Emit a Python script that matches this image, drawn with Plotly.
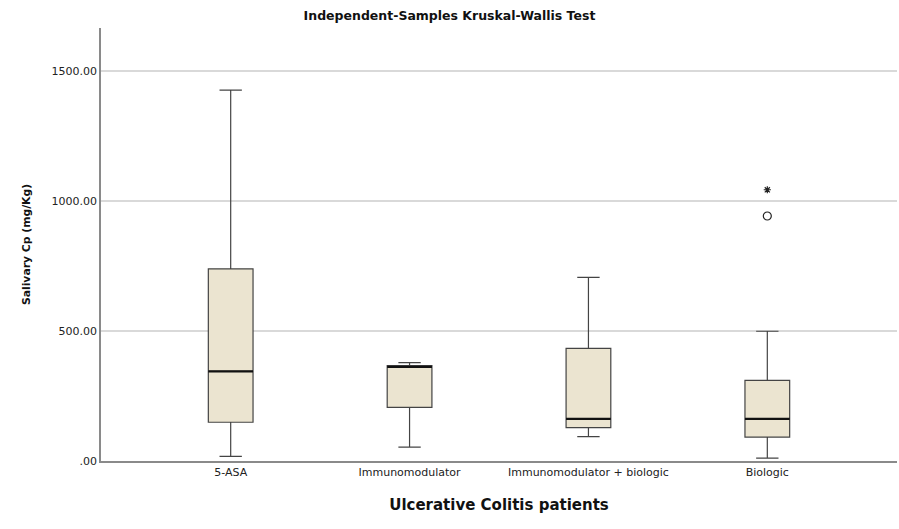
import plotly.graph_objects as go

categories = ["5-ASA", "Immunomodulator", "Immunomodulator + biologic", "Biologic"]
lower_whisker = [18, 53, 94, 11]
q1_vals = [149, 206, 128, 92]
median_vals = [345, 362, 162, 162]
q3_vals = [739, 367, 433, 310]
upper_whisker = [1426, 378, 706, 499]
outlier_cat = ["Biologic"]
outlier_vals = [942]
extreme_cat = ["Biologic"]
extreme_vals = [1043]
y_ticks = [0, 500, 1000, 1500]
y_tick_labels = [".00", "500.00", "1000.00", "1500.00"]

pos = list(range(len(categories)))
cat_pos = {c: i for i, c in enumerate(categories)}
box_w = 0.25

fig = go.Figure()
fig.add_trace(go.Box(
    x=pos, q1=q1_vals, median=median_vals, q3=q3_vals,
    lowerfence=lower_whisker, upperfence=upper_whisker,
    width=box_w, whiskerwidth=0.5,
    fillcolor="#EBE4D0", line=dict(color="#444444", width=1.2),
    boxpoints=False, showlegend=False, hoverinfo="skip",
))
for i, m in zip(pos, median_vals):
    fig.add_trace(go.Scatter(
        x=[i - box_w / 2, i + box_w / 2], y=[m, m], mode="lines",
        line=dict(color="#111111", width=2.3), showlegend=False, hoverinfo="skip",
    ))
fig.add_trace(go.Scatter(
    x=[cat_pos[c] for c in outlier_cat], y=outlier_vals, mode="markers",
    marker=dict(symbol="circle-open", size=8, color="#222", line=dict(width=1.2)),
    showlegend=False,
))
fig.add_trace(go.Scatter(
    x=[cat_pos[c] for c in extreme_cat], y=extreme_vals, mode="markers",
    marker=dict(symbol="asterisk-open", size=6, color="#222", line=dict(width=1.2, color="#222")),
    showlegend=False,
))

tick_font = dict(family="DejaVu Sans", size=11, color="#222222")
fig.update_layout(
    width=899, height=529,
    margin=dict(l=101, r=2, t=28, b=68, autoexpand=False),
    plot_bgcolor="white", paper_bgcolor="white",
    title=dict(text="<b>Independent-Samples Kruskal-Wallis Test</b>", x=0.5, xanchor="center",
               y=1 - 16 / 529, yanchor="middle",
               font=dict(family="DejaVu Sans", size=12.5, color="#111")),
    xaxis=dict(range=[-0.725, 3.725], tickvals=pos, ticktext=categories, automargin=False,
               showgrid=False, zeroline=False, showline=True, linecolor="#8a8a8a", linewidth=1.5,
               ticks="", tickfont=tick_font,
               title=dict(text="<b>Ulcerative Colitis patients</b>", standoff=22,
                          font=dict(family="DejaVu Sans", size=15, color="#111"))),
    yaxis=dict(range=[0, 1665], tickvals=y_ticks, ticktext=y_tick_labels, automargin=False,
               showgrid=True, gridcolor="#d9d9d9", gridwidth=1.5, zeroline=False,
               showline=True, linecolor="#8a8a8a", linewidth=1.5, ticks="",
               tickfont=tick_font,
               title=dict(text="<b>Salivary Cp (mg/Kg)</b>", standoff=19,
                          font=dict(family="DejaVu Sans", size=10.8, color="#111"))),
)
fig.write_html(
    "out.html",
    default_width="899px", default_height="529px",
    config={"responsive": False, "displayModeBar": False},
    post_script="document.body.style.margin='0px';document.body.style.overflow='hidden';",
)
